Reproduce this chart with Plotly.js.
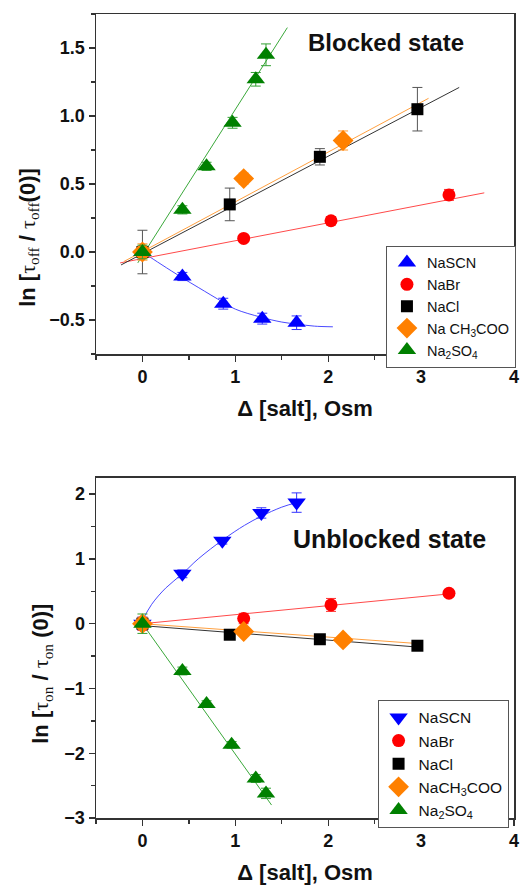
<!DOCTYPE html>
<html>
<head>
<meta charset="utf-8">
<script src="https://cdn.plot.ly/plotly-3.0.1.min.js"></script>
<style>html,body{margin:0;padding:0;background:#fff;}#chart{width:520px;height:886px;}</style>
</head>
<body>
<div id="chart"></div>
<script>
// ---------- Data: Blocked state (top) ----------
const salts = ["NaSCN", "NaBr", "NaCl", "Na CH<sub>3</sub>COO", "Na<sub>2</sub>SO<sub>4</sub>"];
const salts2 = ["NaSCN", "NaBr", "NaCl", "NaCH<sub>3</sub>COO", "Na<sub>2</sub>SO<sub>4</sub>"];

const topScnX = [0, 0.43, 0.87, 1.29, 1.66];
const topScnY = [0, -0.18, -0.38, -0.49, -0.52];
const topScnErr = [0.03, 0.03, 0.04, 0.04, 0.05];
const topBrX = [0, 1.09, 2.03, 3.30];
const topBrY = [0, 0.10, 0.23, 0.42];
const topBrErr = [0.03, 0.02, 0.03, 0.04];
const topClX = [0, 0.94, 1.91, 2.96];
const topClY = [0, 0.35, 0.70, 1.05];
const topClErr = [0.16, 0.12, 0.06, 0.16];
const topAcX = [0, 1.09, 2.16];
const topAcY = [0, 0.54, 0.82];
const topAcErr = [0.06, 0.04, 0.07];
const topSoX = [0, 0.43, 0.69, 0.97, 1.22, 1.33];
const topSoY = [0, 0.31, 0.63, 0.95, 1.27, 1.45];
const topSoErr = [0.05, 0.03, 0.03, 0.04, 0.05, 0.08];

// fitted curves
const topScnFitX = [0, 0.2, 0.43, 0.6, 0.87, 1.0, 1.28, 1.5, 1.66, 1.85, 2.05];
const topScnFitY = [0, -0.09, -0.19, -0.26, -0.37, -0.42, -0.48, -0.515, -0.53, -0.545, -0.55];
const topBrFitX = [-0.24, 3.68];
const topBrFitY = [-0.08, 0.435];
const topClFitX = [-0.23, 3.41];
const topClFitY = [-0.095, 1.21];
const topAcFitX = [-0.2, 3.08];
const topAcFitY = [-0.07, 1.13];
const topSoFitX = [-0.05, 1.56];
const topSoFitY = [-0.08, 1.65];

// ---------- Data: Unblocked state (bottom) ----------
const botScnX = [0, 0.43, 0.86, 1.28, 1.66];
const botScnY = [0, 0.77, 1.28, 1.71, 1.87];
const botScnErr = [0.1, 0.06, 0.05, 0.08, 0.15];
const botBrX = [0, 1.09, 2.03, 3.30];
const botBrY = [0, 0.08, 0.29, 0.47];
const botBrErr = [0.1, 0.08, 0.1, 0.05];
const botClX = [0, 0.94, 1.91, 2.96];
const botClY = [0, -0.17, -0.24, -0.34];
const botClErr = [0.08, 0.07, 0.04, 0.05];
const botAcX = [0, 1.09, 2.16];
const botAcY = [0, -0.12, -0.25];
const botAcErr = [0.06, 0.05, 0.04];
const botSoX = [0, 0.43, 0.69, 0.96, 1.22, 1.33];
const botSoY = [0, -0.73, -1.24, -1.87, -2.39, -2.62];
const botSoErr = [0.15, 0.06, 0.05, 0.05, 0.06, 0.08];

const botScnFitX = [0, 0.1, 0.25, 0.43, 0.6, 0.87, 1.1, 1.28, 1.5, 1.66];
const botScnFitY = [0.05, 0.3, 0.55, 0.77, 1.0, 1.3, 1.52, 1.66, 1.8, 1.87];
const botBrFitX = [0, 3.30];
const botBrFitY = [0, 0.46];
const botClFitX = [0, 2.96];
const botClFitY = [-0.03, -0.36];
const botAcFitX = [0, 3.0];
const botAcFitY = [0, -0.31];
const botSoFitX = [0, 1.39];
const botSoFitY = [0, -2.8];

const markColors = ["#0000ff", "#ff0000", "#000000", "#ff8000", "#008000"];
const lineColors = ["#4a4aff", "#ff4a4a", "#333333", "#ffa040", "#3aa83a"];
const errColors = ["#3333ff", "#ff3333", "#555555", "#ff9933", "#33a033"];

function fit(x, y, i, xa, ya) {
  return {x: x, y: y, mode: "lines", xaxis: xa, yaxis: ya, showlegend: false, hoverinfo: "skip",
    line: {color: lineColors[i], width: 1, shape: x.length > 2 ? "spline" : "linear"}};
}
function pts(x, y, e, i, name, sym, size, xa, ya, leg) {
  return {x: x, y: y, mode: "markers", name: name, xaxis: xa, yaxis: ya, legend: leg,
    marker: {symbol: sym, size: size, color: markColors[i]},
    error_y: {type: "data", array: e, visible: true, color: errColors[i], thickness: 1, width: 5}};
}

const data = [
  fit(topScnFitX, topScnFitY, 0, "x", "y"),
  fit(topBrFitX, topBrFitY, 1, "x", "y"),
  fit(topClFitX, topClFitY, 2, "x", "y"),
  fit(topAcFitX, topAcFitY, 3, "x", "y"),
  fit(topSoFitX, topSoFitY, 4, "x", "y"),
  pts(topScnX, topScnY, topScnErr, 0, salts[0], "triangle-up", 16, "x", "y", "legend"),
  pts(topBrX, topBrY, topBrErr, 1, salts[1], "circle", 13, "x", "y", "legend"),
  pts(topClX, topClY, topClErr, 2, salts[2], "square", 12, "x", "y", "legend"),
  pts(topAcX, topAcY, topAcErr, 3, salts[3], "diamond", 16, "x", "y", "legend"),
  pts(topSoX, topSoY, topSoErr, 4, salts[4], "triangle-up", 16, "x", "y", "legend"),

  fit(botScnFitX, botScnFitY, 0, "x2", "y2"),
  fit(botBrFitX, botBrFitY, 1, "x2", "y2"),
  fit(botClFitX, botClFitY, 2, "x2", "y2"),
  fit(botAcFitX, botAcFitY, 3, "x2", "y2"),
  fit(botSoFitX, botSoFitY, 4, "x2", "y2"),
  pts(botScnX, botScnY, botScnErr, 0, salts2[0], "triangle-down", 16, "x2", "y2", "legend2"),
  pts(botBrX, botBrY, botBrErr, 1, salts2[1], "circle", 13, "x2", "y2", "legend2"),
  pts(botClX, botClY, botClErr, 2, salts2[2], "square", 12, "x2", "y2", "legend2"),
  pts(botAcX, botAcY, botAcErr, 3, salts2[3], "diamond", 16, "x2", "y2", "legend2"),
  pts(botSoX, botSoY, botSoErr, 4, salts2[4], "triangle-up", 16, "x2", "y2", "legend2")
];

const FONT = "Liberation Sans, Arial, sans-serif";
const tickFont = {family: FONT, size: 18, color: "#111", weight: "bold"};
const titleFont = {family: FONT, size: 22, color: "#111", weight: "bold"};

function xax(anchor) {
  return {anchor: anchor, range: [-0.5, 4], dtick: 1, tick0: 0, ticks: "outside", ticklen: 6, tickwidth: 1.4,
    tickcolor: "#333", showline: true, linecolor: "#333", linewidth: 1.5, mirror: true, showgrid: false,
    zeroline: false, tickfont: tickFont,
    minor: {dtick: 0.5, tick0: 0, ticks: "outside", ticklen: 4, tickwidth: 1.4, tickcolor: "#333"},
    title: {text: "\u0394 [salt], Osm", font: titleFont, standoff: 14}};
}
function yax(anchor, range, dtick, mdtick, domain) {
  return {anchor: anchor, domain: domain, range: range, dtick: dtick, tick0: 0, ticks: "outside", ticklen: 6,
    tickwidth: 1.4, tickcolor: "#333", showline: true, linecolor: "#333", linewidth: 1.5, mirror: true,
    showgrid: false, zeroline: false, tickfont: tickFont, tickformat: dtick < 1 ? ".1f" : "d",
    minor: {dtick: mdtick, tick0: 0, ticks: "outside", ticklen: 4, tickwidth: 1.4, tickcolor: "#333"}};
}

const legendBase = {bgcolor: "rgba(255,255,255,1)", bordercolor: "#555", borderwidth: 1,
  xanchor: "left", yanchor: "top", tracegroupgap: 0, itemwidth: 30};

const tau = '<span style="font-family:Liberation Serif;font-weight:normal">\u03c4</span>';
function sub(s) { return '<sub><span style="font-family:Liberation Serif;font-weight:normal">' + s + '</span></sub>'; }
const yTitleTop = "ln [" + tau + sub("off") + " / " + tau + sub("off") + "(0)]";
const yTitleBot = "ln [" + tau + sub("on") + " / " + tau + sub("on") + " (0)]";

const layout = {
  width: 520, height: 886,
  margin: {l: 96, r: 5, t: 14, b: 68},
  paper_bgcolor: "#fff", plot_bgcolor: "#fff",
  xaxis: xax("y"),
  yaxis: yax("x", [-0.75, 1.75], 0.5, 0.25, [0.5771, 1]),
  xaxis2: xax("y2"),
  yaxis2: yax("x2", [-3, 2.25], 1, 0.5, [0, 0.4229]),
  legend: Object.assign({}, legendBase, {x: 0.692, y: 0.712, font: {family: FONT, size: 14.5, color: "#111"}}),
  legend2: Object.assign({}, legendBase, {x: 0.672, y: 0.147, font: {family: FONT, size: 15.5, color: "#111"}}),
  annotations: [
    {text: "Blocked state", xref: "x", yref: "y", x: 2.62, y: 1.54, showarrow: false,
      font: {family: FONT, size: 24, color: "#111", weight: "bold"}},
    {text: "Unblocked state", xref: "x2", yref: "y2", x: 2.66, y: 1.31, showarrow: false,
      font: {family: FONT, size: 25, color: "#111", weight: "bold"}},
    {text: yTitleTop, xref: "paper", yref: "paper", x: -0.162, y: 0.722, textangle: -90, showarrow: false,
      xanchor: "center", yanchor: "middle", font: {family: FONT, size: 22, color: "#111", weight: "bold"}},
    {text: yTitleBot, xref: "paper", yref: "paper", x: -0.128, y: 0.18, textangle: -90, showarrow: false,
      xanchor: "center", yanchor: "middle", font: {family: FONT, size: 22, color: "#111", weight: "bold"}}
  ],
  showlegend: true
};

Plotly.newPlot("chart", data, layout, {displayModeBar: false, staticPlot: true});
</script>
</body>
</html>
